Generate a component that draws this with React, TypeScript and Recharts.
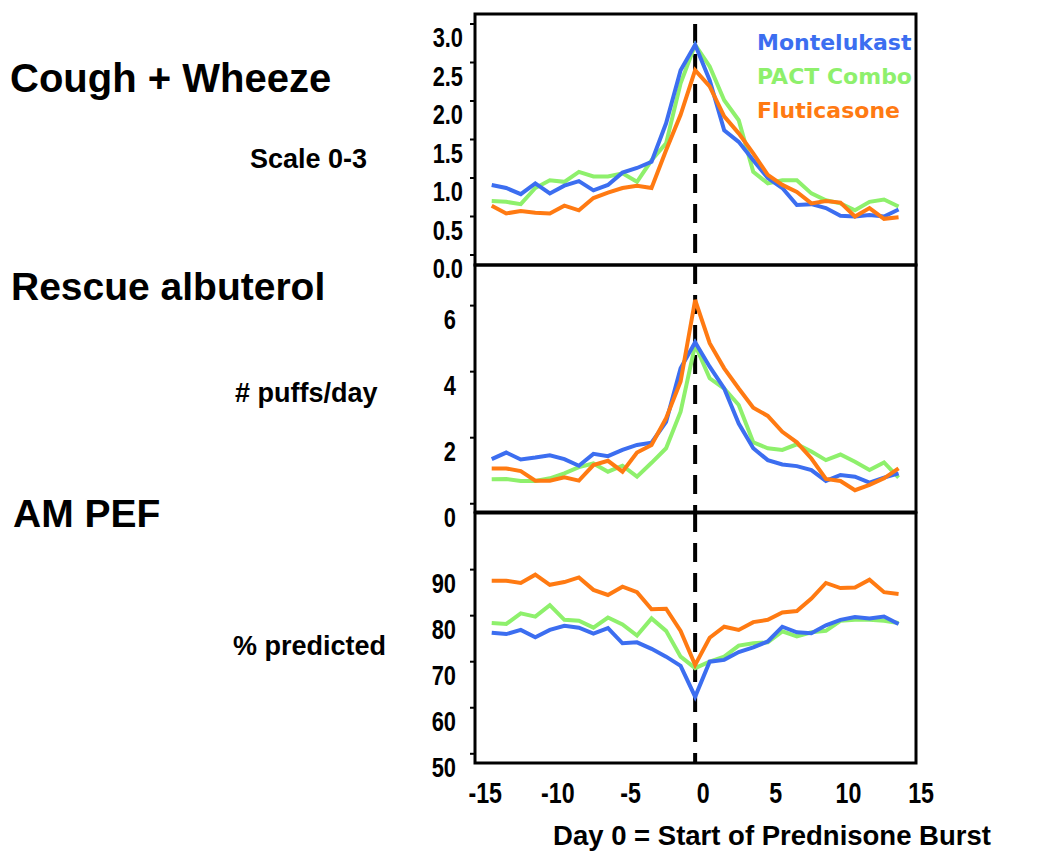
import { LineChart, Line, XAxis, YAxis, ReferenceLine, ReferenceArea, Legend } from 'recharts';

// days relative to start of prednisone burst
const days = [-14, -13, -12, -11, -10, -9, -8, -7, -6, -5, -4, -3, -2, -1, 0, 1, 2, 3, 4, 5, 6, 7, 8, 9, 10, 11, 12, 13, 14];

// Cough + Wheeze (scale 0-3)
const coughMontelukast = [0.91, 0.87, 0.79, 0.93, 0.8, 0.9, 0.96, 0.84, 0.91, 1.07, 1.13, 1.21, 1.71, 2.4, 2.73, 2.27, 1.62, 1.47, 1.23, 1.0, 0.87, 0.65, 0.66, 0.61, 0.51, 0.5, 0.52, 0.5, 0.59];
const coughPact = [0.7, 0.69, 0.66, 0.87, 0.97, 0.95, 1.08, 1.02, 1.02, 1.06, 0.95, 1.23, 1.45, 2.23, 2.73, 2.45, 2.01, 1.75, 1.08, 0.93, 0.97, 0.97, 0.8, 0.71, 0.67, 0.58, 0.69, 0.72, 0.63];
const coughFluticasone = [0.64, 0.54, 0.57, 0.55, 0.54, 0.64, 0.58, 0.74, 0.81, 0.87, 0.9, 0.87, 1.36, 1.82, 2.4, 2.19, 1.8, 1.58, 1.32, 1.04, 0.91, 0.82, 0.67, 0.7, 0.68, 0.5, 0.61, 0.47, 0.49];

// Rescue albuterol (# puffs/day)
const puffsMontelukast = [1.35, 1.55, 1.34, 1.4, 1.47, 1.35, 1.15, 1.51, 1.44, 1.63, 1.78, 1.85, 2.48, 4.1, 4.89, 4.15, 3.49, 2.43, 1.68, 1.32, 1.19, 1.14, 1.02, 0.69, 0.87, 0.82, 0.64, 0.79, 0.92];
const puffsPact = [0.74, 0.75, 0.69, 0.69, 0.77, 0.92, 1.11, 1.22, 0.97, 1.15, 0.82, 1.24, 1.68, 2.79, 4.81, 3.8, 3.49, 2.99, 1.86, 1.68, 1.63, 1.8, 1.58, 1.32, 1.49, 1.27, 1.02, 1.25, 0.79];
const puffsFluticasone = [1.07, 1.07, 0.99, 0.7, 0.7, 0.8, 0.7, 1.17, 1.3, 0.97, 1.55, 1.78, 2.59, 3.7, 6.17, 4.86, 4.1, 3.49, 2.91, 2.66, 2.18, 1.86, 1.37, 0.75, 0.69, 0.41, 0.57, 0.77, 1.07];

// AM PEF (% predicted)
const pefMontelukast = [76.3, 76.0, 76.9, 75.3, 76.9, 77.8, 77.4, 76.1, 77.3, 74.0, 74.2, 72.8, 71.1, 69.1, 62.4, 70.0, 70.4, 72.1, 73.1, 74.4, 77.6, 76.4, 76.2, 77.9, 79.1, 79.7, 79.4, 79.8, 78.2];
const pefPact = [78.4, 78.2, 80.5, 79.8, 82.3, 79.1, 78.9, 77.4, 79.6, 78.1, 75.7, 79.4, 76.7, 71.1, 68.6, 70.0, 71.1, 73.5, 74.0, 74.2, 76.6, 75.5, 76.4, 76.7, 78.9, 79.1, 79.1, 78.9, 78.4];
const pefFluticasone = [87.6, 87.6, 87.1, 88.9, 86.7, 87.3, 88.3, 85.6, 84.5, 86.3, 85.1, 81.4, 81.5, 76.7, 69.3, 75.2, 77.6, 76.9, 78.6, 79.1, 80.7, 81.0, 83.7, 87.1, 86.0, 86.1, 87.8, 85.1, 84.7];

const seriesNames = ['Montelukast', 'PACT Combo', 'Fluticasone'];
const seriesColors = ['#3c6ef0', '#8ef06c', '#ff7a12'];
const xTicks = [-15, -10, -5, 0, 5, 10, 15];

const coughData = days.map((d, i) => ({ day: d, m: coughMontelukast[i], p: coughPact[i], f: coughFluticasone[i] }));
const puffsData = days.map((d, i) => ({ day: d, m: puffsMontelukast[i], p: puffsPact[i], f: puffsFluticasone[i] }));
const pefData = days.map((d, i) => ({ day: d, m: pefMontelukast[i], p: pefPact[i], f: pefFluticasone[i] }));

const X_DOMAIN: [number, number] = [-15.15, 15.2];
const tickFont = "'Liberation Sans', Arial, sans-serif";
const labelFont = "'Liberation Sans', Arial, Helvetica, sans-serif";

// tick labels in the original are a condensed bold face, squeeze them horizontally
function YTick(props: any) {
  const { x, y, payload, fmt } = props;
  return (
    <text transform={`translate(${x},${y + 13}) scale(0.78,1)`} textAnchor="end" dominantBaseline="central"
      fontFamily={tickFont} fontWeight="bold" fontSize={28} fill="#000">
      {fmt ? fmt(payload.value) : payload.value}
    </text>
  );
}

function XTick(props: any) {
  const { x, y, payload } = props;
  return (
    <text transform={`translate(${x + 8},${y + 22}) scale(0.8,1)`} textAnchor="middle" dominantBaseline="central"
      fontFamily={tickFont} fontWeight="bold" fontSize={29} fill="#000">
      {payload.value}
    </text>
  );
}

function LegendBox() {
  return (
    <div style={{ fontFamily: "'DejaVu Sans', Verdana, sans-serif", fontWeight: 'bold', fontSize: 22, lineHeight: '34px' }}>
      {seriesNames.map((n, i) => (
        <div key={n} style={{ color: seriesColors[i] }}>{n}</div>
      ))}
    </div>
  );
}

function drawLines() {
  // green underneath, then blue, orange on top
  return [
    <Line key="p" type="linear" dataKey="p" name={seriesNames[1]} stroke={seriesColors[1]} strokeWidth={4} dot={false} isAnimationActive={false} />,
    <Line key="m" type="linear" dataKey="m" name={seriesNames[0]} stroke={seriesColors[0]} strokeWidth={4} dot={false} isAnimationActive={false} />,
    <Line key="f" type="linear" dataKey="f" name={seriesNames[2]} stroke={seriesColors[2]} strokeWidth={4} dot={false} isAnimationActive={false} />,
  ];
}

const dash = { stroke: '#000', strokeWidth: 4, strokeDasharray: '19 11' };

export default function App() {
  const c1Y: [number, number] = [-0.13, 3.13];
  const c2Y: [number, number] = [-0.25, 7.23];
  const c3Y: [number, number] = [48, 102.3];

  return (
    <div style={{ position: 'absolute', left: 0, top: 0, width: 1050, height: 863, background: '#fff' }}>
      <svg width={1050} height={863} style={{ position: 'absolute', left: 0, top: 0 }} fontFamily={labelFont} fontWeight="bold" fill="#000">
        <text x={10} y={92} fontSize={40}>Cough + Wheeze</text>
        <text x={250} y={168} fontSize={27}>Scale 0-3</text>
        <text x={11} y={300} fontSize={39}>Rescue albuterol</text>
        <text x={235} y={402} fontSize={27}># puffs/day</text>
        <text x={13} y={527} fontSize={39}>AM PEF</text>
        <text x={233} y={655} fontSize={27}>% predicted</text>
        <text x={772} y={845} fontSize={27.5} textAnchor="middle">Day 0 = Start of Prednisone Burst</text>
      </svg>

      <div style={{ position: 'absolute', left: 0, top: 0 }}>
        <LineChart width={1050} height={300} data={coughData} margin={{ top: 14, right: 134, bottom: 35, left: 415 }} style={{ overflow: 'visible' }}>
          <XAxis type="number" dataKey="day" domain={X_DOMAIN} hide height={0} />
          <YAxis type="number" domain={c1Y} ticks={[0, 0.5, 1, 1.5, 2, 2.5, 3]} width={60} axisLine={false}
            tickLine={{ stroke: '#000', strokeWidth: 2 }} tickSize={5} tickMargin={7}
            tick={<YTick fmt={(v: number) => v.toFixed(1)} />} />
          <ReferenceArea x1={X_DOMAIN[0]} x2={X_DOMAIN[1]} y1={c1Y[0]} y2={c1Y[1]} fill="none" stroke="#000" strokeWidth={3} />
          <ReferenceLine segment={[{ x: 0, y: 3 }, { x: 0, y: c1Y[0] }]} {...dash} />
          {drawLines()}
          <Legend layout="vertical" align="center" verticalAlign="middle" content={<LegendBox />}
            wrapperStyle={{ left: 757, top: 26, width: 'auto', height: 'auto' }} />
        </LineChart>
      </div>

      <div style={{ position: 'absolute', left: 0, top: 250 }}>
        <LineChart width={1050} height={300} data={puffsData} margin={{ top: 15, right: 134, bottom: 38, left: 415 }} style={{ overflow: 'visible' }}>
          <XAxis type="number" dataKey="day" domain={X_DOMAIN} hide height={0} />
          <YAxis type="number" domain={c2Y} ticks={[0, 2, 4, 6]} width={60} axisLine={false}
            tickLine={{ stroke: '#000', strokeWidth: 2 }} tickSize={5} tickMargin={14}
            tick={<YTick />} />
          <ReferenceArea x1={X_DOMAIN[0]} x2={X_DOMAIN[1]} y1={c2Y[0]} y2={c2Y[1]} fill="none" stroke="#000" strokeWidth={3} />
          <ReferenceLine segment={[{ x: 0, y: c2Y[1] }, { x: 0, y: c2Y[0] }]} {...dash} />
          {drawLines()}
        </LineChart>
      </div>

      <div style={{ position: 'absolute', left: 0, top: 500 }}>
        <LineChart width={1050} height={363} data={pefData} margin={{ top: 13, right: 134, bottom: 60, left: 415 }}>
          <XAxis type="number" dataKey="day" domain={X_DOMAIN} ticks={xTicks} allowDataOverflow height={40}
            axisLine={false} tickLine={false} tick={<XTick />} />
          <YAxis type="number" domain={c3Y} ticks={[50, 60, 70, 80, 90]} width={60} axisLine={false}
            tickLine={{ stroke: '#000', strokeWidth: 2 }} tickSize={5} tickMargin={14}
            tick={<YTick />} />
          <ReferenceArea x1={X_DOMAIN[0]} x2={X_DOMAIN[1]} y1={c3Y[0]} y2={c3Y[1]} fill="none" stroke="#000" strokeWidth={3} />
          <ReferenceLine segment={[{ x: 0, y: c3Y[1] }, { x: 0, y: c3Y[0] }]} {...dash} />
          {drawLines()}
        </LineChart>
      </div>
    </div>
  );
}
